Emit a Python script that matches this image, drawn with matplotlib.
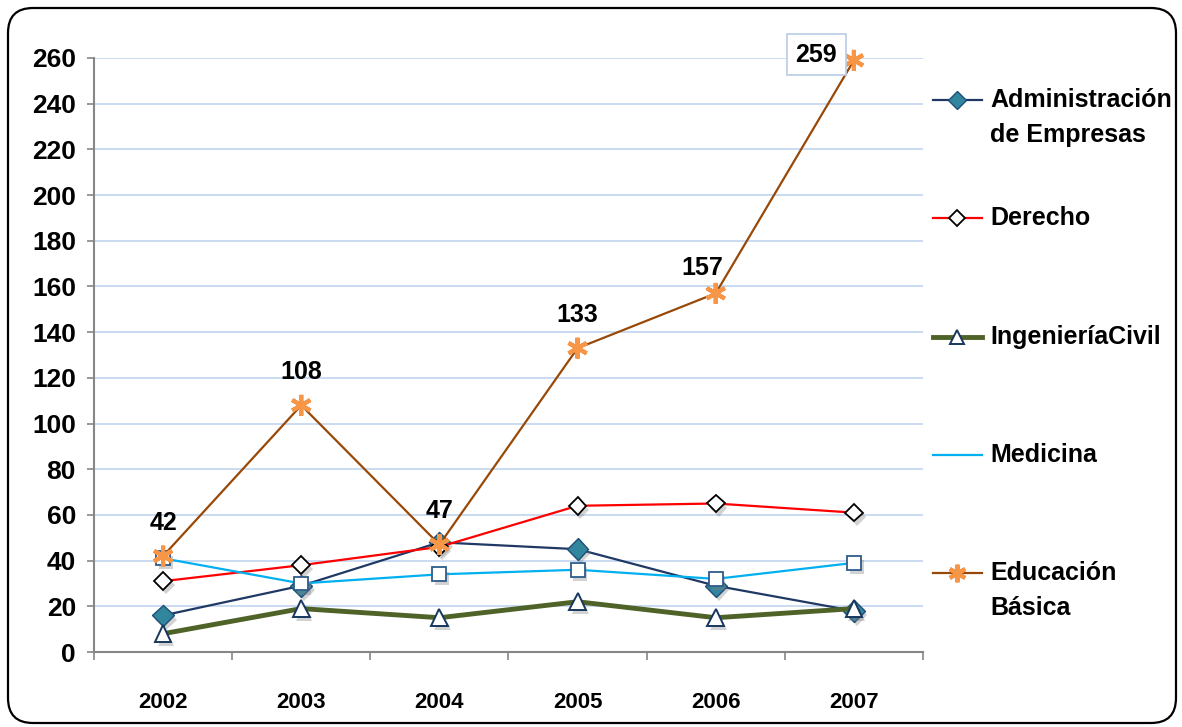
import matplotlib
matplotlib.use("Agg")
import matplotlib.pyplot as plt
import matplotlib.patches as mpatches
import matplotlib.patheffects as pe
from matplotlib.lines import Line2D
from matplotlib.transforms import IdentityTransform

plt.rcParams['font.family'] = ['Liberation Sans', 'DejaVu Sans']

# Datos
anios = ['2002', '2003', '2004', '2005', '2006', '2007']
administracion = [16, 29, 48, 45, 29, 18]
derecho = [31, 38, 46, 64, 65, 61]
ingenieria = [8, 19, 15, 22, 15, 19]
medicina = [41, 30, 34, 36, 32, 39]
educacion = [42, 108, 47, 133, 157, 259]
yticks = list(range(0, 261, 20))

fig = plt.figure(figsize=(11.82, 7.27), dpi=100)
ax = fig.add_axes([94 / 1182, 75 / 727, (923 - 94) / 1182, (652 - 58) / 727])

x = list(range(len(anios)))
sombra = [pe.SimplePatchShadow(offset=(2, -3), shadow_rgbFace='#7f7f7f', alpha=0.35), pe.Normal()]

series = [
    dict(y=administracion, color='#1F3864', lw=1.6, marker='D', ms=11,
         mfc='#31859C', mec='#1F4E79', mew=1.0),
    dict(y=derecho, color='#FF0000', lw=1.6, marker='D', ms=9,
         mfc='white', mec='black', mew=1.3),
    dict(y=ingenieria, color='#4F6228', lw=3.5, marker='^', ms=12,
         mfc='white', mec='#17375E', mew=1.4),
    dict(y=medicina, color='#00B0F0', lw=1.6, marker='s', ms=10,
         mfc='white', mec='#2E5C8A', mew=1.3),
    dict(y=educacion, color='#984807', lw=1.6, marker=(6, 2, 0), ms=15,
         mfc='#F79646', mec='#F79646', mew=3.0),
]

for i, s in enumerate(series):
    ax.plot(x, s['y'], color=s['color'], lw=s['lw'], zorder=3 + i, clip_on=False)
    ax.plot(x, s['y'], ls='none', marker=s['marker'], ms=s['ms'], mfc=s['mfc'],
            mec=s['mec'], mew=s['mew'], zorder=3.5 + i, clip_on=False,
            path_effects=sombra)

# Etiquetas de Educación Básica
desplaz = [(0, 24), (0, 24), (0, 24), (0, 24), (-10, 18), (-27, 4)]
for xi, v, off in zip(x, educacion, desplaz):
    kw = {}
    if v == educacion[-1]:
        kw['bbox'] = dict(boxstyle='square,pad=0.35', fc='white', ec='#B9CDE5', lw=1.2)
    ax.annotate(str(v), (xi, v), xytext=off, textcoords='offset points',
                ha='center', va='center', fontsize=18, fontweight='bold', zorder=10, **kw)

ax.set_xlim(-0.5, 5.5)
ax.set_ylim(0, 260)
ax.set_yticks(yticks)
ax.set_xticks(x)
ax.set_xticklabels(anios)
ax.set_xticks([i - 0.5 for i in range(len(anios) + 1)], minor=True)
ax.tick_params(axis='x', which='major', length=0, pad=29, labelsize=16)
ax.tick_params(axis='x', which='minor', length=6, color='#868686', width=1.2)
ax.tick_params(axis='y', length=5, color='#868686', width=1.2, pad=8, labelsize=19)
for lbl in ax.get_xticklabels() + ax.get_yticklabels():
    lbl.set_fontweight('bold')

ax.grid(axis='y', color='#C6D9F1', lw=1.3)
ax.set_axisbelow(True)
for lado in ['top', 'right']:
    ax.spines[lado].set_visible(False)
for lado in ['left', 'bottom']:
    ax.spines[lado].set_color('#868686')
    ax.spines[lado].set_linewidth(1.5)

# Leyenda manual
def fy(py):
    return 1 - py / 727

leyenda = [
    (100, ['Administración', 'de Empresas'], 0, True),
    (218, ['Derecho'], 1, True),
    (337, ['IngenieríaCivil'], 2, True),
    (455, ['Medicina'], 3, False),
    (573, ['Educación', 'Básica'], 4, True),
]
for py, textos, idx, con_marca in leyenda:
    s = series[idx]
    fig.add_artist(Line2D([933 / 1182, 982 / 1182], [fy(py), fy(py)],
                          color=s['color'], lw=s['lw'], transform=fig.transFigure))
    if con_marca:
        fig.add_artist(Line2D([957 / 1182], [fy(py)], ls='none', marker=s['marker'],
                              ms=s['ms'] * 0.85, mfc=s['mfc'], mec=s['mec'], mew=s['mew'],
                              transform=fig.transFigure))
    for j, t in enumerate(textos):
        fig.text(990 / 1182, fy(py + 35 * j), t, ha='left', va='center',
                 fontsize=18, fontweight='bold')

# Marco redondeado
marco = mpatches.FancyBboxPatch((8, 4), 1168, 715, boxstyle='round,pad=0,rounding_size=25',
                                transform=IdentityTransform(), fc='none', ec='black', lw=1.6)
fig.add_artist(marco)

fig.savefig('out.png', dpi=100)
